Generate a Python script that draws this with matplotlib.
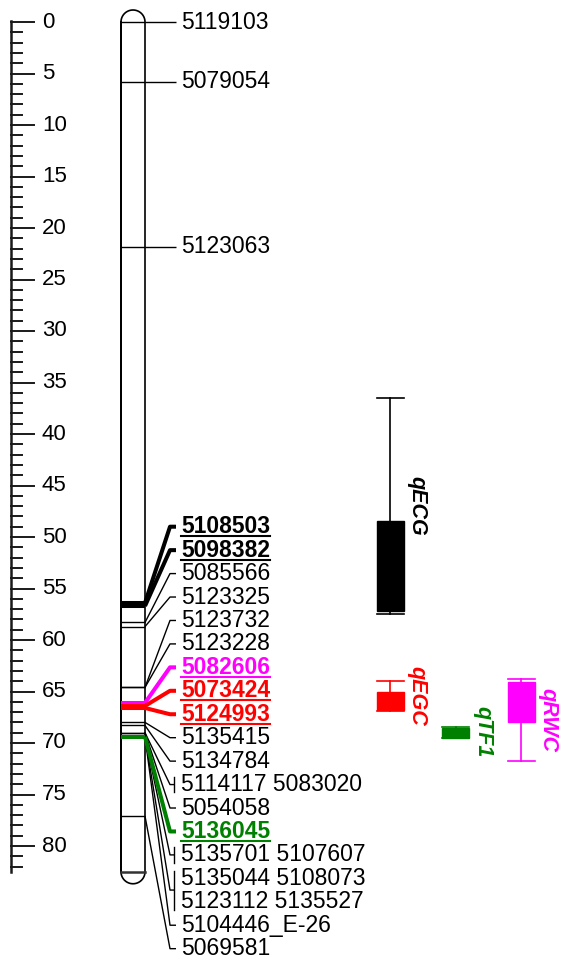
import matplotlib
matplotlib.use("Agg")
import matplotlib.pyplot as plt
import numpy as np
from matplotlib.patches import Rectangle

plt.rcParams["font.family"] = ["Liberation Sans", "DejaVu Sans"]

# label rows on the linkage group, top to bottom, with marker position (cM)
row_labels = ["5119103", "5079054", "5123063",
              "5108503", "5098382", "5085566", "5123325", "5123732", "5123228",
              "5082606", "5073424", "5124993", "5135415", "5134784",
              "5114117 5083020", "5054058", "5136045", "5135701 5107607",
              "5135044 5108073", "5123112 5135527", "5104446_E-26", "5069581"]
row_pos = [0.0, 5.8, 21.8,
           56.4, 56.7, 58.3, 58.7, 64.6, 64.6,
           66.1, 66.4, 66.6, 68.0, 68.3,
           69.0, 69.0, 69.4, 69.4,
           69.4, 69.4, 69.4, 77.1]
row_colors = ["black"] * 3 + ["black", "black"] + ["black"] * 4 + \
             ["magenta", "red", "red"] + ["black"] * 4 + ["green"] + ["black"] * 5
row_hilite = [False] * 3 + [True, True] + [False] * 4 + [True, True, True] + \
             [False] * 4 + [True] + [False] * 5
row_group = [None] * 14 + ["a", None, None, "b", "c", "c", None, None]

chrom_end = 82.5
ruler_end = 82

# QTL intervals (cM): outer whisker and inner box
qtl_names = ["qECG", "qEGC", "qTF1", "qRWC"]
qtl_outer_top = [36.5, 64.0, 68.4, 63.8]
qtl_box_top = [48.4, 65.0, 68.5, 64.1]
qtl_box_bot = [57.2, 66.8, 69.5, 68.0]
qtl_outer_bot = [57.5, 66.9, 69.5, 71.7]
qtl_colors = ["black", "red", "green", "magenta"]
qtl_column = [0, 0, 1, 2]

# layout (pixels)
W, H = 567, 959
y0, ppc = 22, 10.3
cx_l, cx_r = 121, 145
lab_x = 181

fig = plt.figure(figsize=(W / 100, H / 100), dpi=100)
ax = fig.add_axes([0, 0, 1, 1])
ax.set_xlim(0, W)
ax.set_ylim((H - y0) / ppc, -y0 / ppc)
ax.axis("off")

# ruler
ax.plot([11, 11], [-0.1, chrom_end], color="#1a1a1a", lw=1.8)
for v in range(0, ruler_end + 1):
    major = v % 5 == 0
    ax.plot([11, 34 if major else 22], [v, v], color="#1a1a1a", lw=1.4)
    if major:
        ax.text(42, v, str(v), fontsize=16, va="center", ha="left")

# chromosome outline
r = 12 / ppc
t = np.linspace(0, np.pi, 40)
cx = (cx_l + cx_r) / 2
rx = (cx_r - cx_l) / 2
top_x = cx - rx * np.cos(t)
top_y = -r * np.sin(t)
bot_x = cx + rx * np.cos(t)
bot_y = chrom_end + r * np.sin(t)
ox = np.concatenate([[cx_l], top_x, [cx_r, cx_r], bot_x, [cx_l, cx_l]])
oy = np.concatenate([[chrom_end], top_y, [0, chrom_end], bot_y, [chrom_end, 0]])
ax.plot(ox, oy, color="black", lw=1.2)
ax.plot([cx_l, cx_r], [chrom_end, chrom_end], color="#333333", lw=1.8)

# label row positions: top three at their marker, the rest stacked
step = 2.276
label_y = list(row_pos[:3]) + [49.0 + i * step for i in range(len(row_labels) - 3)]

# marker lines across the chromosome (thin first, highlighted on top)
order = sorted(range(len(row_labels)), key=lambda i: row_hilite[i])
for i in order:
    hl = row_hilite[i]
    col = row_colors[i]
    lw = 2.9 if hl else 1.0
    ax.plot([cx_l, cx_r], [row_pos[i], row_pos[i]], color=col, lw=lw,
            solid_capstyle="butt", zorder=3 if hl else 2)

# connectors
groups = {}
for i, g in enumerate(row_group):
    if g is not None:
        groups.setdefault(g, []).append(i)
done = set()
for i in order:
    hl = row_hilite[i]
    col = row_colors[i]
    lw = 2.9 if hl else 1.0
    z = 3 if hl else 2
    g = row_group[i]
    if g is None:
        ly = label_y[i]
        ax.plot([cx_r, 170, 176], [row_pos[i], ly, ly], color=col, lw=lw, zorder=z,
                solid_capstyle="butt")
    elif g not in done:
        done.add(g)
        members = groups[g]
        top = label_y[members[0]] - 0.75
        bot = label_y[members[-1]] + 0.75
        mid = (label_y[members[0]] + label_y[members[-1]]) / 2
        ax.plot([cx_r, 170, 174], [row_pos[i], mid, mid], color=col, lw=lw, zorder=z)
        ax.plot([174, 174], [top, bot], color=col, lw=lw, zorder=z)

texts = []
for i, lab in enumerate(row_labels):
    tx = ax.text(lab_x, label_y[i], lab, fontsize=16.5, va="center", ha="left",
                 color=row_colors[i], fontweight="bold" if row_hilite[i] else "normal")
    texts.append(tx)

# QTL boxes
for k, name in enumerate(qtl_names):
    xc = 390 + qtl_column[k] * 65.5
    col = qtl_colors[k]
    hw = 13.5
    ax.plot([xc, xc], [qtl_outer_top[k], qtl_outer_bot[k]], color=col, lw=1.2)
    ax.plot([xc - hw, xc + hw], [qtl_outer_top[k]] * 2, color=col, lw=1.2)
    ax.plot([xc - hw, xc + hw], [qtl_outer_bot[k]] * 2, color=col, lw=1.2)
    ax.add_patch(Rectangle((xc - hw, qtl_box_top[k]), 2 * hw,
                           qtl_box_bot[k] - qtl_box_top[k], facecolor=col,
                           edgecolor=col, lw=1))
    ax.text(xc + 27, (qtl_outer_top[k] + qtl_outer_bot[k]) / 2, name, rotation=-90,
            fontsize=15.5, fontweight="bold", fontstyle="italic", color=col,
            ha="center", va="center")

# underline highlighted labels
fig.canvas.draw()
inv = ax.transData.inverted()
for i, tx in enumerate(texts):
    if row_hilite[i]:
        bb = tx.get_window_extent()
        (xa, ya), (xb, _) = inv.transform([(bb.x0, bb.y0 + 2), (bb.x1, bb.y0 + 2)])
        ax.plot([xa, xb], [ya, ya], color=row_colors[i], lw=1.5)

fig.savefig("out.png", dpi=100)
